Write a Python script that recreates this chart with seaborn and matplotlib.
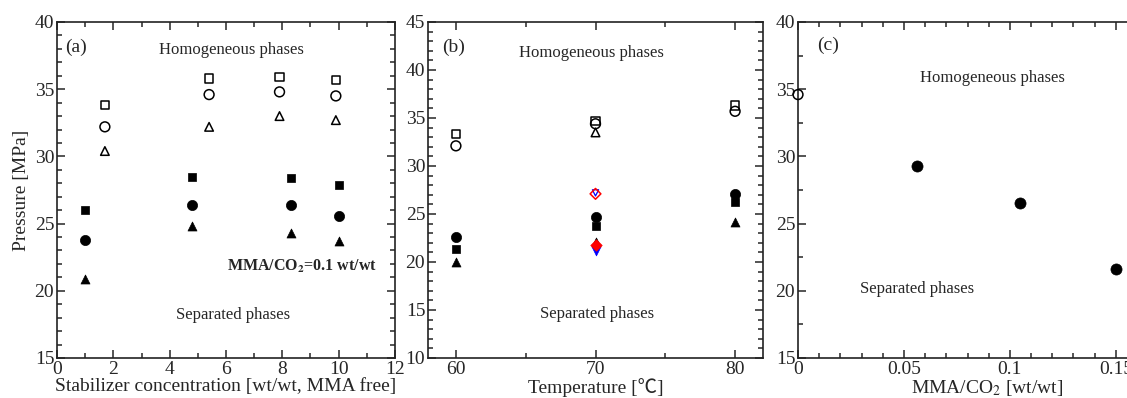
import numpy as np
import pandas as pd
import seaborn as sns
import matplotlib.pyplot as plt
from matplotlib.ticker import MultipleLocator

sns.set_theme(style="ticks")
plt.rcParams['font.family'] = ['Liberation Serif', 'Noto Sans CJK JP', 'DejaVu Serif']
plt.rcParams['mathtext.fontset'] = 'stix'

# (a) stabilizer concentration
a_conc_open = [1.7, 5.4, 7.9, 9.9]
a_conc_fill = [1.0, 4.8, 8.3, 10.0]
a_open_sq = [33.8, 35.8, 35.9, 35.7]
a_open_ci = [32.2, 34.6, 34.8, 34.5]
a_open_tr = [30.4, 32.2, 33.0, 32.7]
a_fill_sq = [26.0, 28.5, 28.4, 27.9]
a_fill_ci = [23.8, 26.4, 26.4, 25.6]
a_fill_tr = [20.9, 24.8, 24.3, 23.7]

# (b) temperature
b_temp = [60, 70, 80]
b_open_sq = [33.3, 34.7, 36.3]
b_open_ci = [32.1, 34.4, 35.7]
b_open_tr = [np.nan, 33.5, np.nan]
b_fill_ci = [22.6, 24.7, 27.1]
b_fill_sq = [21.4, 23.8, 26.2]
b_fill_tr = [20.0, 22.1, 24.2]
b_red_temp = [70]
b_red_open = [27.1]
b_blue_open = [27.2]
b_red_fill = [21.8]
b_blue_fill = [21.1]

# (c) MMA/CO2 ratio
c_ratio_open = [0.0]
c_open_ci = [34.6]
c_ratio_fill = [0.056, 0.105, 0.15]
c_fill_ci = [29.3, 26.5, 21.6]

W, H = 1127, 398
fig = plt.figure(figsize=(W / 100, H / 100), dpi=100)
ax_a = fig.add_axes([57 / W, 1 - 358 / H, 338 / W, 336 / H])
ax_b = fig.add_axes([428 / W, 1 - 358 / H, 335 / W, 336 / H])
ax_c = fig.add_axes([798 / W, 1 - 358 / H, 339 / W, 336 / H])


def pts(ax, x, y, marker, filled=True, color="black", s=38, lw=1.1, clip=True):
    if filled:
        sns.scatterplot(x=x, y=y, marker=marker, s=s, color=color,
                        edgecolor=color, linewidth=0.5, ax=ax, clip_on=clip, zorder=3)
    else:
        sns.scatterplot(x=x, y=y, marker=marker, s=s, facecolor="none",
                        edgecolor=color, linewidth=lw, ax=ax, clip_on=clip, zorder=3)


pts(ax_a, a_conc_open, a_open_sq, "s", False, s=36)
pts(ax_a, a_conc_open, a_open_ci, "o", False, s=50)
pts(ax_a, a_conc_open, a_open_tr, "^", False, s=38)
pts(ax_a, a_conc_fill, a_fill_sq, "s", s=36)
pts(ax_a, a_conc_fill, a_fill_ci, "o", s=54)
pts(ax_a, a_conc_fill, a_fill_tr, "^", s=42)

pts(ax_b, b_temp, b_open_ci, "o", False, s=50)
pts(ax_b, b_temp, b_open_sq, "s", False, s=36)
pts(ax_b, b_temp, b_open_tr, "^", False, s=38)
pts(ax_b, b_temp, b_fill_ci, "o", s=54)
pts(ax_b, b_temp, b_fill_sq, "s", s=36)
pts(ax_b, b_temp, b_fill_tr, "^", s=42)
pts(ax_b, b_red_temp, b_blue_open, "v", False, color="blue", s=20, lw=0.9)
pts(ax_b, b_red_temp, b_red_open, "D", False, color="red", s=30)
pts(ax_b, b_red_temp, b_blue_fill, "v", color="blue", s=40)
pts(ax_b, b_red_temp, b_red_fill, "D", color="red", s=34)

pts(ax_c, c_ratio_open, c_open_ci, "o", False, s=50, clip=False)
pts(ax_c, c_ratio_fill, c_fill_ci, "o", s=64)

ax_a.set(xlim=(0, 12), ylim=(15, 40))
ax_a.xaxis.set_major_locator(MultipleLocator(2))
ax_a.xaxis.set_minor_locator(MultipleLocator(1))
ax_a.yaxis.set_major_locator(MultipleLocator(5))
ax_a.yaxis.set_minor_locator(MultipleLocator(1))

ax_b.set(xlim=(58, 82), ylim=(10, 45))
ax_b.xaxis.set_major_locator(MultipleLocator(10))
ax_b.xaxis.set_minor_locator(MultipleLocator(5))
ax_b.yaxis.set_major_locator(MultipleLocator(5))
ax_b.yaxis.set_minor_locator(MultipleLocator(1))

ax_c.set(xlim=(0, 0.16), ylim=(15, 40))
ax_c.set_xticks([0, 0.05, 0.1, 0.15])
ax_c.set_xticklabels(["0", "0.05", "0.1", "0.15"])
ax_c.xaxis.set_minor_locator(MultipleLocator(0.01))
ax_c.yaxis.set_major_locator(MultipleLocator(5))
ax_c.yaxis.set_minor_locator(MultipleLocator(2.5))

for ax in (ax_a, ax_b, ax_c):
    ax.tick_params(which="both", direction="in", top=True, right=True,
                   labelsize=14, width=1.1, pad=2)
    ax.tick_params(which="major", length=6)
    ax.tick_params(which="minor", length=3.5)
    for sp in ax.spines.values():
        sp.set_linewidth(1.2)
        sp.set_color("#222222")

ax_a.set_ylabel("Pressure [MPa]", fontsize=14, labelpad=3)
ax_a.set_xlabel("Stabilizer concentration [wt/wt, MMA free]", fontsize=14, labelpad=0)
ax_b.set_xlabel("Temperature [℃]", fontsize=14, labelpad=0)
ax_c.set_xlabel("MMA/CO$_\\mathrm{2}$ [wt/wt]", fontsize=14)
ax_c.xaxis.set_label_coords((987 - 798) / 339, -0.06)

ax_a.text(0.3, 38.1, "(a)", fontsize=14, va="center")
ax_a.text(6.2, 37.9, "Homogeneous phases", fontsize=12, ha="center", va="center")
ax_a.text(8.7, 21.8, "MMA/CO$_\\mathbf{2}$=0.1 wt/wt", fontsize=11.5, fontweight="bold",
          ha="center", va="center")
ax_a.text(6.25, 18.2, "Separated phases", fontsize=12, ha="center", va="center")

ax_b.text(59.0, 42.4, "(b)", fontsize=14, va="center")
ax_b.text(69.7, 41.8, "Homogeneous phases", fontsize=12, ha="center", va="center")
ax_b.text(70.1, 14.6, "Separated phases", fontsize=12, ha="center", va="center")

ax_c.text(0.009, 38.3, "(c)", fontsize=14, va="center")
ax_c.text(0.092, 35.8, "Homogeneous phases", fontsize=12, ha="center", va="center")
ax_c.text(0.056, 20.1, "Separated phases", fontsize=12, ha="center", va="center")

fig.savefig("out.png", dpi=100)
